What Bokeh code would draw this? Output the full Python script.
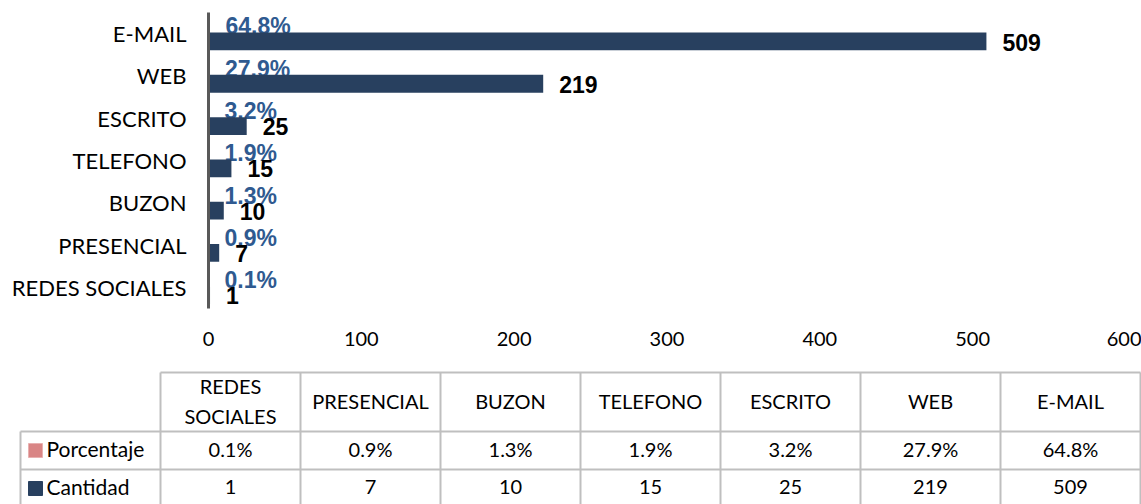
from bokeh.plotting import figure
from bokeh.models import Range1d, FactorRange, FixedTicker, ColumnDataSource
from bokeh.transform import dodge
from bokeh.layouts import column
from bokeh.core.properties import value
from bokeh.embed import file_html
from bokeh.resources import INLINE

# ---- data ----
categories = ["REDES SOCIALES", "PRESENCIAL", "BUZON", "TELEFONO", "ESCRITO", "WEB", "E-MAIL"]
header_labels = ["REDES\nSOCIALES", "PRESENCIAL", "BUZON", "TELEFONO", "ESCRITO", "WEB", "E-MAIL"]
cantidad = [1, 7, 10, 15, 25, 219, 509]
porcentaje = [0.1, 0.9, 1.3, 1.9, 3.2, 27.9, 64.8]
pct_labels = ["0.1%", "0.9%", "1.3%", "1.9%", "3.2%", "27.9%", "64.8%"]
x_ticks = [0, 100, 200, 300, 400, 500, 600]
series_names = ["Porcentaje", "Cantidad"]

BAR = "#28405F"
PCT = "#2F5A90"
PINK = "#D98585"
GRID = "#BFBFBF"
CAT_FONT = "Lato"
NUM_FONT = "Liberation Sans"

src = ColumnDataSource(dict(
    cat=categories, cant=cantidad, pctfrac=[v / 100 for v in porcentaje],
    pct=pct_labels, cant_lbl=[str(v) for v in cantidad]))

# ---- bar chart ----
p = figure(width=1141, height=365, y_range=FactorRange(factors=categories, range_padding=0),
           x_range=Range1d(0, 600), output_backend="svg", toolbar_location=None,
           min_border_left=208, min_border_right=16, min_border_top=12, min_border_bottom=57)
p.frame_align = False
p.outline_line_color = None
p.grid.visible = False

# percentage labels (drawn first so the bars cover them)
p.text(x="pctfrac", y=dodge("cat", 0.17, range=p.y_range), text="pct", source=src,
       x_offset=16, text_align="left", text_baseline="middle",
       text_font=value(NUM_FONT), text_font_style="bold", text_font_size="23px", text_color=PCT)

# Porcentaje series bars (tiny)
p.hbar(y=dodge("cat", 0.21, range=p.y_range), right="pctfrac", height=0.42, source=src,
       fill_color=PINK, line_color=None)
# Cantidad bars
p.hbar(y=dodge("cat", -0.185, range=p.y_range), right="cant", left=0, height=0.42, source=src,
       fill_color=BAR, line_color=None)

p.text(x="cant", y=dodge("cat", -0.2, range=p.y_range), text="cant_lbl", source=src,
       x_offset=16, text_align="left", text_baseline="middle",
       text_font=value(NUM_FONT), text_font_style="bold", text_font_size="23px", text_color="black")

p.yaxis.axis_line_color = "#595959"
p.yaxis.axis_line_width = 3
p.yaxis.major_tick_line_color = None
p.yaxis.minor_tick_line_color = None
p.yaxis.major_label_standoff = 16
p.yaxis.major_label_text_font = CAT_FONT
p.yaxis.major_label_text_font_size = "22px"
p.yaxis.major_label_text_color = "black"

p.xaxis.ticker = FixedTicker(ticks=x_ticks)
p.xaxis.axis_line_color = None
p.xaxis.major_tick_line_color = None
p.xaxis.minor_tick_line_color = None
p.xaxis.major_label_standoff = 17
p.xaxis.major_label_text_font = CAT_FONT
p.xaxis.major_label_text_font_size = "20px"
p.xaxis.major_label_text_color = "black"

# ---- data table ----
ncol = len(categories)
t = figure(width=1141, height=139, x_range=Range1d(-1 - 20 / 140, ncol + 1 / 140),
           y_range=Range1d(139, 0), output_backend="svg", toolbar_location=None,
           min_border=0, x_axis_location=None, y_axis_location=None)
t.frame_align = False
t.outline_line_color = None
t.grid.visible = False

top, hb, r1, r2 = 7, 66, 104, 142
# horizontal lines
t.segment(x0=[0, -1, -1, -1], x1=[ncol] * 4, y0=[top, hb, r1, r2], y1=[top, hb, r1, r2],
          line_color=GRID, line_width=2)
# vertical lines
xs = list(range(0, ncol + 1))
t.segment(x0=xs, x1=xs, y0=[top] * len(xs), y1=[r2] * len(xs), line_color=GRID, line_width=2)
t.segment(x0=[-1], x1=[-1], y0=[hb], y1=[r2], line_color=GRID, line_width=2)

cx = [i + 0.5 for i in range(ncol)]
t.text(x=cx, y=[(top + hb) / 2] * ncol, text=header_labels, text_align="center",
       text_baseline="middle", text_font=value(CAT_FONT), text_font_size="20px",
       text_color="black", text_line_height=1.25, y_offset=-1)
t.text(x=cx, y=[(hb + r1) / 2] * ncol, text=pct_labels, text_align="center",
       text_baseline="middle", text_font=value(CAT_FONT), text_font_size="20px",
       text_color="black", y_offset=-2)
t.text(x=cx, y=[(r1 + r2) / 2] * ncol, text=[str(v) for v in cantidad], text_align="center",
       text_baseline="middle", text_font=value(CAT_FONT), text_font_size="20px",
       text_color="black", y_offset=-2)

# legend keys
t.rect(x=[-1 + 15 / 140] * 2, y=[(hb + r1) / 2, (r1 + r2) / 2], width=14 / 140, height=14,
       fill_color=[PINK, BAR], line_color=["#E8B0B0", BAR])
t.text(x=[-1 + 26 / 140] * 2, y=[(hb + r1) / 2, (r1 + r2) / 2], text=series_names,
       text_align="left", text_baseline="middle", text_font=value(CAT_FONT),
       text_font_size="21px", text_color="black", y_offset=-2)

layout = column(p, t, spacing=0)
open("out.html", "w").write(file_html(layout, INLINE))
